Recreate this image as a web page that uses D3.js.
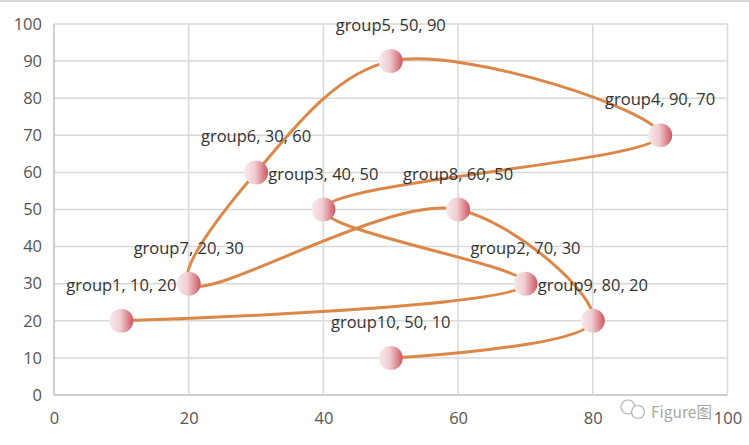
<!DOCTYPE html>
<html><head><meta charset="utf-8">
<script src="https://cdn.jsdelivr.net/npm/d3@7"></script>
<style>body{margin:0;background:#fff}svg{display:block}</style>
</head><body>
<svg id="c" width="749" height="445"></svg>
<script>
const groups = ["group1","group2","group3","group4","group5","group6","group7","group8","group9","group10"];
const xValues = [10,70,40,90,50,30,20,60,80,50];
const yValues = [20,30,50,70,90,60,30,50,20,10];
const xTicks = [0,20,40,60,80,100];
const yTicks = [0,10,20,30,40,50,60,70,80,90,100];

const data = groups.map((g,i)=>({name:g,x:xValues[i],y:yValues[i]}));
const svg = d3.select("#c");
const W=749,H=445;
const x = d3.scaleLinear().domain([0,100]).range([54,727.5]);
const y = d3.scaleLinear().domain([0,100]).range([395,24]);
const font = "'Open Sans', sans-serif";

// top border
svg.append("line").attr("x1",0).attr("x2",W).attr("y1",1).attr("y2",1).attr("stroke","#d6d6d6").attr("stroke-width",2);

const defs = svg.append("defs");
const grad = defs.append("linearGradient").attr("id","mk").attr("x1","0%").attr("x2","100%").attr("y1","0%").attr("y2","0%");
grad.append("stop").attr("offset","0%").attr("stop-color","#f8eaec");
grad.append("stop").attr("offset","45%").attr("stop-color","#f0cdd1");
grad.append("stop").attr("offset","100%").attr("stop-color","#cf5560");

// grid
svg.append("g").selectAll("line").data(yTicks).join("line")
  .attr("x1",x(0)).attr("x2",x(100)).attr("y1",d=>y(d)).attr("y2",d=>y(d))
  .attr("stroke",d=>d===0?"#bfbfbf":"#d9d9d9").attr("stroke-width",1.5);
svg.append("g").selectAll("line").data(xTicks).join("line")
  .attr("x1",d=>x(d)).attr("x2",d=>x(d)).attr("y1",y(0)).attr("y2",y(100))
  .attr("stroke",d=>d===0?"#bfbfbf":"#d9d9d9").attr("stroke-width",1.5);

// axes via d3
const yAxis = svg.append("g").attr("transform",`translate(${x(0)},0)`)
  .call(d3.axisLeft(y).tickValues(yTicks).tickSize(0).tickPadding(12));
const xAxis = svg.append("g").attr("transform",`translate(0,${y(0)})`)
  .call(d3.axisBottom(x).tickValues(xTicks).tickSize(0).tickPadding(17));
[yAxis,xAxis].forEach(a=>{
  a.select(".domain").remove();
  a.selectAll("text").attr("font-family",font).attr("font-size",16.5).attr("fill","#555");
});

// line
const line = d3.line().x(d=>x(d.x)).y(d=>y(d.y)).curve(d3.curveCatmullRom.alpha(0.5));
svg.append("path").datum(data).attr("d",line).attr("fill","none")
  .attr("stroke","#dc8748").attr("stroke-width",3).attr("stroke-linecap","round");

// markers
svg.append("g").selectAll("circle").data(data).join("circle")
  .attr("cx",d=>x(d.x)).attr("cy",d=>y(d.y)).attr("r",12).attr("fill","url(#mk)");

// labels
svg.append("g").selectAll("text").data(data).join("text")
  .attr("x",d=>x(d.x)).attr("y",d=>y(d.y)-30)
  .attr("text-anchor","middle").attr("font-family",font).attr("font-size",16.5).attr("fill","#333")
  .text(d=>`${d.name}, ${d.x}, ${d.y}`);

// watermark
const wm = svg.append("g").attr("opacity",0.75);
wm.append("circle").attr("cx",628).attr("cy",407).attr("r",7).attr("fill","none").attr("stroke","#999").attr("stroke-width",1.2);
wm.append("circle").attr("cx",638).attr("cy",412).attr("r",6.5).attr("fill","#fff").attr("stroke","#999").attr("stroke-width",1.2);
wm.append("text").attr("x",651).attr("y",418).attr("font-family","'Noto Sans CJK SC', sans-serif").attr("font-size",15.5).attr("fill","#888").text("Figure图");
</script>
</body></html>
